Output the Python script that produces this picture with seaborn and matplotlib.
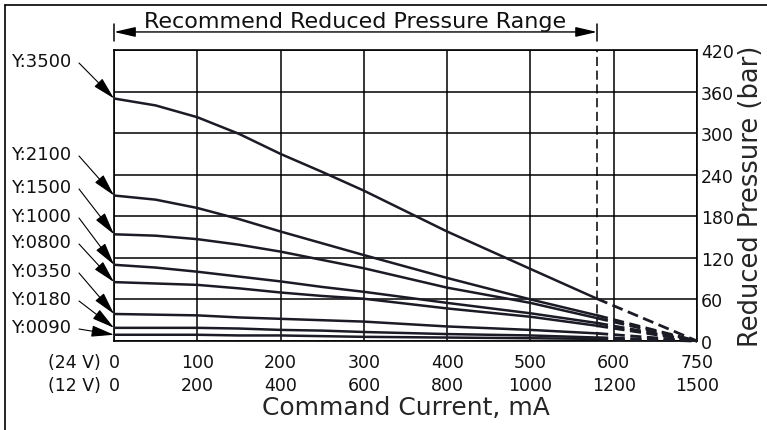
import numpy as np
import pandas as pd
import seaborn as sns
import matplotlib.pyplot as plt

# data (current in mA for 24 V, pressure in bar)
current_ma = [0, 50, 100, 150, 200, 250, 300, 400, 500, 580]
end_current = 750
series = ['Y:3500', 'Y:2100', 'Y:1500', 'Y:1000', 'Y:0800', 'Y:0350', 'Y:0180', 'Y:0090']
p3500 = [350, 340, 323, 299, 270, 244, 217, 158, 104, 61]
p2100 = [210, 204, 192, 176, 158, 141, 124, 91, 60, 37]
p1500 = [154, 152, 147, 139, 129, 117, 105, 77, 55, 33]
p1000 = [110, 106, 100, 93, 86, 78, 71, 55, 40, 26]
p0800 = [85, 83, 81, 76, 70, 65, 61, 47, 35, 22]
p0350 = [39, 38, 37, 34, 32, 30, 28, 21, 16, 11]
p0180 = [19, 19, 19, 18, 16, 15, 13, 10, 8, 5]
p0090 = [9, 9, 9, 8, 8, 7, 6, 5, 4, 3]
pressures = [p3500, p2100, p1500, p1000, p0800, p0350, p0180, p0090]

ticks_24v = [0, 100, 200, 300, 400, 500, 600, 750]
ticks_12v = [0, 200, 400, 600, 800, 1000, 1200, 1500]
pressure_ticks = [0, 60, 120, 180, 240, 300, 360, 420]
recommended_max = 580

# where each label sits (figure pixel rows, from the top)
label_rows = [62, 155, 188, 217, 243, 272, 300, 328]

rows = []
for name, vals in zip(series, pressures):
    for c, p in zip(current_ma, vals):
        rows.append({'current': c, 'pressure': p, 'series': name})
df = pd.DataFrame(rows)

sns.set_style('white')
plt.rcParams['font.family'] = ['DejaVu Sans']

W, H = 767, 431
fig = plt.figure(figsize=(W / 100, H / 100), dpi=100)
ax = fig.add_axes([114 / W, 1 - 342 / H, (697 - 114) / W, (342 - 51) / H])

# last column (600-750) is squeezed to the same width as the others
def fwd(x):
    x = np.asarray(x, dtype=float)
    return np.where(x <= 600, x, 600 + (x - 600) * 2 / 3)

def inv(x):
    x = np.asarray(x, dtype=float)
    return np.where(x <= 600, x, 600 + (x - 600) * 1.5)

ax.set_xscale('function', functions=(fwd, inv))

ink = '#1b1b26'
sns.lineplot(data=df, x='current', y='pressure', hue='series', palette=[ink] * len(series),
             estimator=None, sort=False, legend=False, linewidth=1.8, ax=ax, zorder=3)

# dashed run-out to zero at 750 mA
for vals in pressures:
    ax.plot([current_ma[-1], end_current], [vals[-1], 0], color=ink, lw=2.0,
            ls=(0, (4, 2)), zorder=3, clip_on=False)

ax.set_xlim(0, 750)
ax.set_ylim(0, 420)
ax.set_xticks(ticks_24v)
ax.set_xticklabels([f'{a}\n{b}' for a, b in zip(ticks_24v, ticks_12v)], linespacing=1.3)
ax.set_yticks(pressure_ticks)
ax.yaxis.tick_right()
ax.yaxis.set_label_position('right')
ax.tick_params(axis='both', length=0, labelsize=12.5, labelcolor='#111111')
ax.tick_params(axis='x', pad=9)
ax.tick_params(axis='y', pad=3)
ax.grid(True, color='black', lw=1.1)
for s in ax.spines.values():
    s.set_color('black')
    s.set_linewidth(1.2)

ax.set_xlabel('Command Current, mA', fontsize=18, labelpad=1)
ax.set_ylabel('Reduced Pressure (bar)', fontsize=18.5, labelpad=3)

# recommended range marker
ax.axvline(recommended_max, color='black', lw=1.1, ls=(0, (6, 3)), zorder=2)
xt = ax.get_xaxis_transform()
for xv in [0, recommended_max]:
    ax.plot([xv, xv], [1.031, 1.089], color='black', lw=1.1, transform=xt, clip_on=False)
ax.annotate('', xy=(0, 1.062), xytext=(recommended_max, 1.062),
            xycoords=xt, textcoords=xt,
            arrowprops=dict(arrowstyle='<|-|>,head_length=1.3,head_width=0.3',
                            color='black', lw=1.0, shrinkA=0, shrinkB=0))
fig.text(355 / W, 1 - 28 / H, 'Recommend Reduced Pressure Range', fontsize=16,
         ha='center', va='baseline', color='#111111')

# curve labels with arrows
for name, vals, yr in zip(series, pressures, label_rows):
    fig.text(11 / W, 1 - yr / H, name, fontsize=13, ha='left', va='center', color='#111111')
    ax.annotate('', xy=(0, vals[0]), xytext=(79, H - yr - 2), textcoords='figure pixels',
                arrowprops=dict(arrowstyle='-|>,head_length=1.4,head_width=0.35',
                                color='black', lw=0.8, shrinkA=0, shrinkB=0),
                annotation_clip=False)

fig.text(101 / W, 1 - 363 / H, '(24 V)', fontsize=12.5, ha='right', va='center', color='#111111')
fig.text(101 / W, 1 - 386 / H, '(12 V)', fontsize=12.5, ha='right', va='center', color='#111111')

# drawing frame
fig.add_artist(plt.Line2D([5 / W, 5 / W], [0, 1 - 6 / H], color='black', lw=1.2, transform=fig.transFigure))
fig.add_artist(plt.Line2D([5 / W, 1], [1 - 6 / H, 1 - 6 / H], color='black', lw=1.2, transform=fig.transFigure))

fig.savefig('out.png', dpi=100)
